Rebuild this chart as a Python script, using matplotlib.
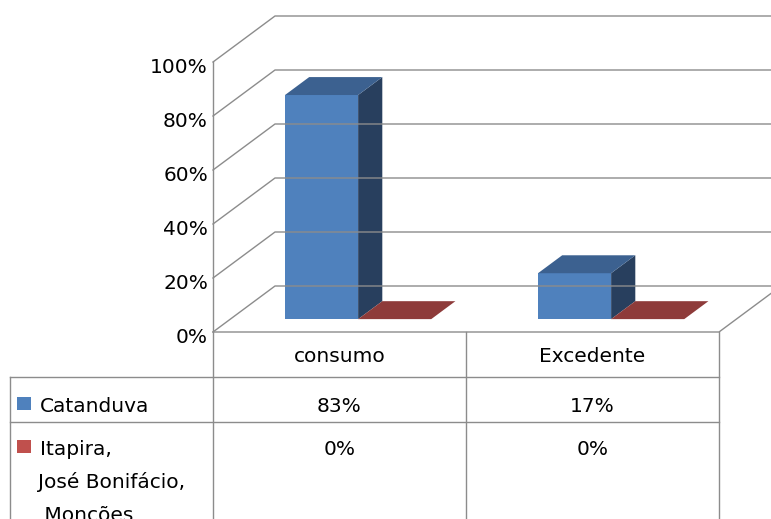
import numpy as np
import matplotlib.pyplot as plt
from matplotlib.patches import Polygon, Rectangle

# Datos
categories = ['consumo', 'Excedente']
series_names = ['Catanduva', 'Itapira,\nJosé Bonifácio,\n Moncões']
catanduva = [83, 17]
outras = [0, 0]
ticks = [0, 20, 40, 60, 80, 100]
tick_labels = ['0%', '20%', '40%', '60%', '80%', '100%']

plt.rcParams['font.family'] = ['DejaVu Sans']

# Geometría (pixeles de la figura)
X0, Y0 = 213, 332          # esquina frontal izquierda del piso
CAT_W = 253                # ancho de cada categoría
PX_PCT = 2.70              # pixeles por 1 %
DX, DY = 62, 46            # desplazamiento de profundidad
BAR_OFF, BAR_W = 0.216, 0.289
D0, D1 = 0.28, 0.67
GRID = '#8c8c8c'
FS = 14.5

blue = ('#4f81bd', '#3c6190', '#283f5e')   # frente, arriba, lado
red = ('#c0504d', '#8e3b3a', '#6e2c2b')


def proj(c, v, d):
    return X0 + c * CAT_W + d * DX, Y0 - v * PX_PCT - d * DY


fig = plt.figure(figsize=(7.71, 5.19), dpi=100)
ax = fig.add_axes([0, 0, 1, 1])
ax.set_xlim(0, 771)
ax.set_ylim(519, 0)
ax.axis('off')

n = len(categories)

# Paredes y rejilla
for t, lab in zip(ticks, tick_labels):
    xa, ya = proj(0, t, 0)
    xb, yb = proj(0, t, 1)
    xc, yc = proj(n, t, 1)
    ax.plot([xa, xb, xc], [ya, yb, yc], color=GRID, lw=1)
    ax.text(xa - 5, ya + 11, lab, ha='right', va='baseline', fontsize=FS)

xa, ya = proj(0, 0, 0)
xb, yb = proj(0, ticks[-1], 0)
ax.plot([xa, xb], [519, yb], color=GRID, lw=1)
# piso
xr, yr = proj(n, 0, 0)
xrb, yrb = proj(n, 0, 1)
ax.plot([xa, xr, xrb], [ya, yr, yrb], color=GRID, lw=1)


def bar(c0, v, cols):
    c1 = c0 + BAR_W
    front = [proj(c0, 0, D0), proj(c1, 0, D0), proj(c1, v, D0), proj(c0, v, D0)]
    top = [proj(c0, v, D0), proj(c1, v, D0), proj(c1, v, D1), proj(c0, v, D1)]
    side = [proj(c1, 0, D0), proj(c1, 0, D1), proj(c1, v, D1), proj(c1, v, D0)]
    if v > 0:
        ax.add_patch(Polygon(front, closed=True, fc=cols[0], ec='none'))
        ax.add_patch(Polygon(side, closed=True, fc=cols[2], ec='none'))
    ax.add_patch(Polygon(top, closed=True, fc=cols[1], ec='none'))


for i in range(n):
    bar(i + BAR_OFF, catanduva[i], blue)
    bar(i + BAR_OFF + BAR_W, outras[i], red)

# Tabla de datos
T_LEFT = 10
ROWS = [332, 377, 422]
for y in ROWS[1:]:
    ax.plot([T_LEFT, xr], [y, y], color=GRID, lw=1)
ax.plot([T_LEFT, T_LEFT], [ROWS[1], 519], color=GRID, lw=1)
for i in range(1, n + 1):
    xc, _ = proj(i, 0, 0)
    ax.plot([xc, xc], [ROWS[0], 519], color=GRID, lw=1)

for i, cat in enumerate(categories):
    xc, _ = proj(i + 0.5, 0, 0)
    ax.text(xc, 362, cat, ha='center', va='baseline', fontsize=FS)
    ax.text(xc, 412, f'{catanduva[i]}%', ha='center', va='baseline', fontsize=FS)
    ax.text(xc, 455, f'{outras[i]}%', ha='center', va='baseline', fontsize=FS)

name_base = [412, 455]
for k, (name, cols) in enumerate(zip(series_names, [blue, red])):
    yb = name_base[k]
    ax.add_patch(Rectangle((17, yb - 15), 14, 13, fc=cols[0], ec='none'))
    for j, line in enumerate(name.split('\n')):
        ax.text(40 if j == 0 else 38, yb + j * 33, line, ha='left',
                va='baseline', fontsize=FS)

fig.savefig('out.png', dpi=100)
